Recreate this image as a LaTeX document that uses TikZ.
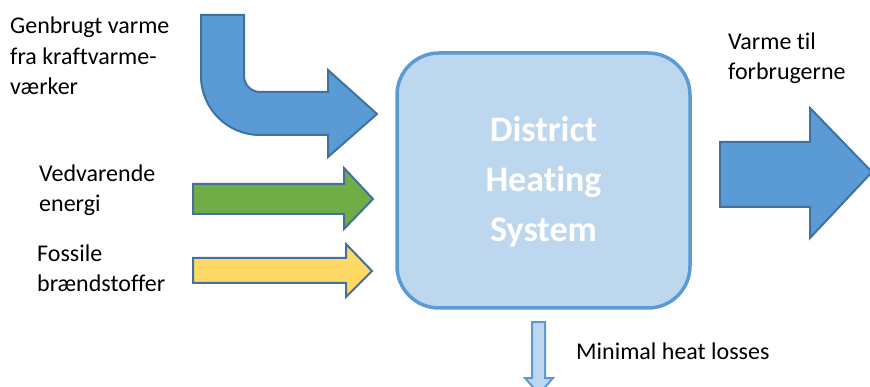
\documentclass[tikz,border=0pt]{standalone}
\usepackage{fontspec}
\setmainfont[Ligatures=NoCommon]{Carlito}
\definecolor{fillblue}{HTML}{5B9BD5}
\definecolor{lineblue}{HTML}{41719C}
\definecolor{boxfill}{HTML}{BDD7EE}
\definecolor{greenfill}{HTML}{70AD47}
\definecolor{yellowfill}{HTML}{FFD966}
\tikzset{
  lbl/.style={anchor=base west, inner sep=0pt, align=left, font=\fontsize{24}{30.5}\selectfont, text=black},
  bigarrow/.style={line width=2pt, draw=lineblue, line join=miter},
}
\begin{document}
\begin{tikzpicture}[x=1pt,y=-1pt]
\useasboundingbox (0,0) rectangle (870,387);
\clip (0,0) rectangle (870,387);
% central box
\node[draw=fillblue, fill=boxfill, line width=3.5pt, rounded corners=42pt,
      minimum width=293pt, minimum height=255pt, inner sep=0pt] (dhs) at (543.5,180.5) {};
\node[anchor=base, inner sep=0pt, align=center, text=white,
      font=\fontsize{36}{50}\selectfont\bfseries] (dhstext) at (543.5,241.7)
      {District\\Heating\\System};
% bent arrow
\draw[bigarrow, fill=fillblue] (201,15) -- (201,76) arc[start angle=180, end angle=90, radius=59]
  -- (328,135) -- (328,157) -- (377,114) -- (328,70) -- (328,92) -- (260,92)
  arc[start angle=90, end angle=180, radius=16] -- (244,15) -- cycle;
% green arrow
\draw[bigarrow, fill=greenfill] (193,184) -- (344,184) -- (344,168) -- (373,199) -- (344,229) -- (344,214) -- (193,214) -- cycle;
% yellow arrow
\draw[bigarrow, fill=yellowfill] (193,258) -- (346,258) -- (346,244) -- (372,271) -- (346,297) -- (346,283) -- (193,283) -- cycle;
% output arrow
\draw[bigarrow, fill=fillblue] (720,142) -- (810,142) -- (810,108) -- (872,172) -- (810,238) -- (810,207) -- (720,207) -- cycle;
% loss arrow
\draw[line width=2pt, draw=fillblue, fill=boxfill] (532,322) -- (545,322) -- (545,378) -- (553,378) -- (539,394) -- (525,378) -- (532,378) -- cycle;
% labels
\node[lbl] (t1) at (10,95) {Genbrugt varme\\fra kraftvarme-\\værker};
\node[lbl] (t2) at (39,211.7) {Vedvarende\\energi};
\node[lbl] (t3) at (37,291.7) {Fossile\\brændstoffer};
\node[lbl] (t4) at (728,80) {Varme til\\forbrugerne};
\node[lbl] (t5) at (576,359) {Minimal heat losses};
\end{tikzpicture}
\end{document}
